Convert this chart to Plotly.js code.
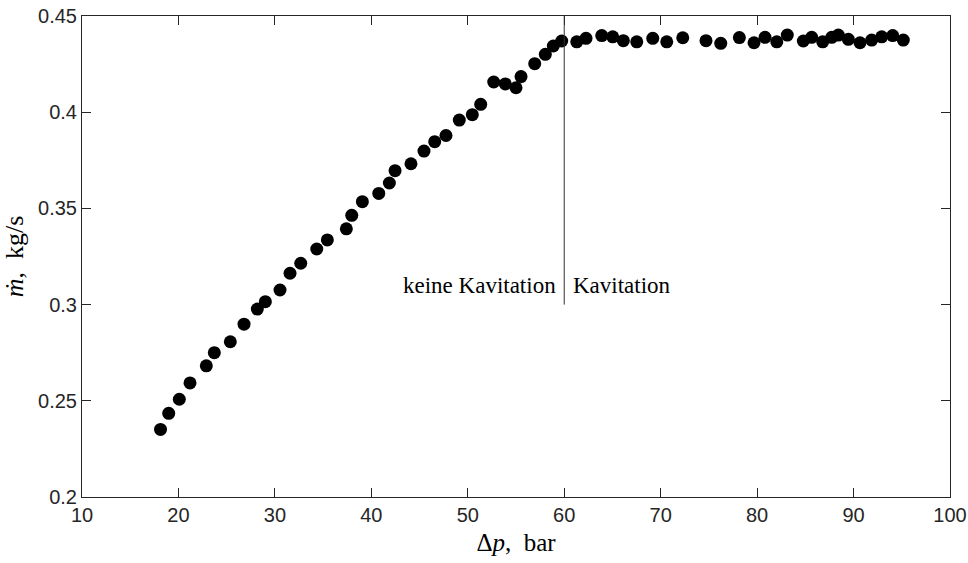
<!DOCTYPE html>
<html>
<head>
<meta charset="utf-8">
<script src="https://cdn.plot.ly/plotly-3.0.1.min.js"></script>
<style>html,body{margin:0;padding:0;background:#fff;}#chart{width:968px;height:563px;}</style>
</head>
<body>
<div id="chart"></div>
<script>
// Pressure difference (bar)
const deltaP = [18.14, 18.99, 20.09, 21.20, 22.89, 23.72, 25.38, 26.80, 28.18, 29.01,
  30.53, 31.57, 32.68, 34.34, 35.44, 37.41, 37.97, 39.07, 40.77, 41.87,
  42.46, 44.11, 45.46, 46.57, 47.74, 49.12, 50.47, 51.34, 52.69, 53.89,
  55.00, 55.52, 56.94, 58.04, 58.87, 59.74, 61.30, 62.26, 63.89, 65.03,
  66.13, 67.52, 69.18, 70.63, 72.29, 74.70, 76.23, 78.16, 79.68, 80.82,
  82.04, 83.13, 84.79, 85.66, 86.80, 87.74, 88.42, 89.46, 90.67, 91.88,
  92.92, 94.06, 95.16];
// Mass flow rate (kg/s)
const massFlow = [0.2351, 0.2435, 0.2508, 0.2593, 0.2682, 0.2750, 0.2807, 0.2898, 0.2977, 0.3015,
  0.3076, 0.3163, 0.3215, 0.3289, 0.3336, 0.3394, 0.3464, 0.3535, 0.3578, 0.3632,
  0.3696, 0.3732, 0.3798, 0.3847, 0.3879, 0.3959, 0.3987, 0.4041, 0.4157, 0.4147,
  0.4127, 0.4185, 0.4252, 0.4301, 0.4344, 0.4370, 0.4366, 0.4384, 0.4398, 0.4392,
  0.4372, 0.4366, 0.4384, 0.4366, 0.4387, 0.4372, 0.4358, 0.4388, 0.4361, 0.4389,
  0.4366, 0.4401, 0.4370, 0.4389, 0.4366, 0.4389, 0.4401, 0.4379, 0.4361, 0.4375,
  0.4392, 0.4398, 0.4375];
const xTicks = [10, 20, 30, 40, 50, 60, 70, 80, 90, 100];
const yTicks = [0.2, 0.25, 0.3, 0.35, 0.4, 0.45];
const yTickText = ['0.2', '0.25', '0.3', '0.35', '0.4', '0.45'];
const cavitationOnset = 60;
const lineBottom = 0.3;
const labelY = 0.3097;
const labelLeft = 'keine Kavitation';
const labelRight = 'Kavitation';

const serif = 'Liberation Serif, Times New Roman, serif';
const sans = 'Liberation Sans, Arial, Helvetica, sans-serif';

const trace = {
  x: deltaP, y: massFlow, type: 'scatter', mode: 'markers',
  marker: {color: '#000', size: 13, line: {width: 0}},
  hoverinfo: 'x+y', showlegend: false
};

const axisCommon = {
  showline: true, linecolor: '#262626', linewidth: 1, mirror: 'ticks',
  ticks: 'inside', ticklen: 9, tickcolor: '#262626', tickwidth: 1,
  showgrid: false, zeroline: false,
  tickfont: {family: sans, size: 20, color: '#262626'}
};

const layout = {
  width: 968, height: 563,
  margin: {l: 82, r: 18, t: 16, b: 66},
  paper_bgcolor: '#fff', plot_bgcolor: '#fff',
  xaxis: Object.assign({}, axisCommon, {
    range: [10, 100], tickvals: xTicks, ticktext: xTicks.map(String),
    title: {text: 'Δ<i>p</i>,\u2002bar', font: {family: serif, size: 25, color: '#000'}, standoff: 8}
  }),
  yaxis: Object.assign({}, axisCommon, {
    range: [0.2, 0.45], tickvals: yTicks, ticktext: yTickText,
    title: {text: '<i>ṁ</i>,\u2002kg/s', font: {family: serif, size: 26, color: '#000'}, standoff: 6}
  }),
  shapes: [{
    type: 'line', xref: 'x', yref: 'y',
    x0: cavitationOnset, x1: cavitationOnset, y0: lineBottom, y1: 0.45,
    line: {color: '#333', width: 1}
  }],
  annotations: [
    {x: cavitationOnset, y: labelY, xref: 'x', yref: 'y', text: labelLeft, showarrow: false,
     xanchor: 'right', yanchor: 'middle', xshift: -6,
     font: {family: serif, size: 23, color: '#000'}},
    {x: cavitationOnset, y: labelY, xref: 'x', yref: 'y', text: labelRight, showarrow: false,
     xanchor: 'left', yanchor: 'middle', xshift: 7,
     font: {family: serif, size: 23, color: '#000'}}
  ]
};

Plotly.newPlot('chart', [trace], layout, {displayModeBar: false, staticPlot: true});
</script>
</body>
</html>
